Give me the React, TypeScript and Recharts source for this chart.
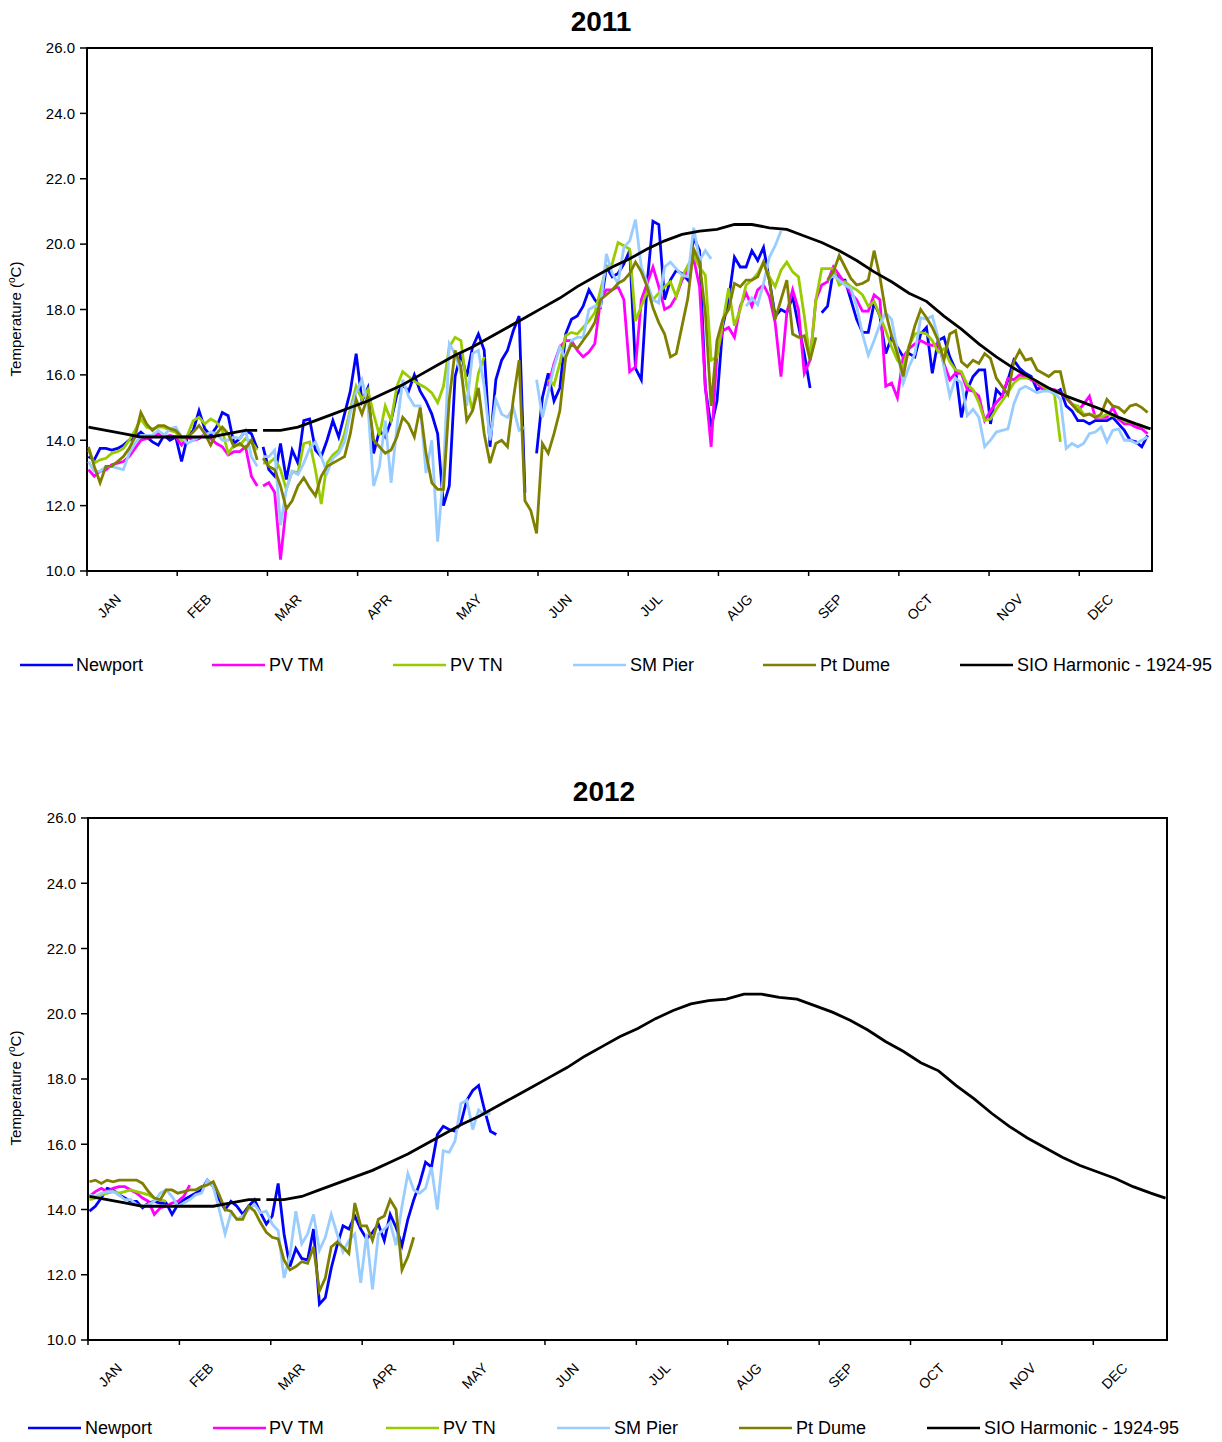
import { LineChart, Line, XAxis, YAxis, ReferenceArea } from "recharts";

const months = ["JAN", "FEB", "MAR", "APR", "MAY", "JUN", "JUL", "AUG", "SEP", "OCT", "NOV", "DEC"];
const monthTicks = [0, 31, 62, 93, 124, 155, 186, 217, 248, 279, 310, 341];
const yTicks = [10, 12, 14, 16, 18, 20, 22, 24, 26];

const seriesNames = ["Newport", "PV TM", "PV TN", "SM Pier", "Pt Dume"];
const seriesColors = ["#0000FF", "#FF00FF", "#99CC00", "#99CCFF", "#808000"];
const harmonicName = "SIO Harmonic - 1924-95";

// daily temps read every other day from Jan 1 (null = no data)
const newport2011 = [
  13.5, 13.4, 13.75, 13.75, 13.7, 13.75, 13.85, 14.0, 14.1, 14.25,
  14.1, 13.95, 13.85, 14.15, 14.0, 14.1, 13.35, 14.1, 14.3, 14.9,
  14.35, 14.15, 14.4, 14.85, 14.75, 13.9, 14.05, 14.3, 14.2, 13.75,
  13.8, 13.1, 12.9, 13.9, 12.8, 13.7, 13.3, 14.6, 14.65, 13.7,
  13.5, 14.0, 14.6, 14.1, 14.8, 15.5, 16.65, 15.2, 15.6, 13.6,
  14.3, 14.1, 14.6, 15.4, 15.7, 15.5, 16.0, 15.5, 15.2, 14.8,
  14.2, 12.0, 12.6, 15.95, 16.65, 15.95, 16.85, 17.25, 16.75, 13.8,
  15.85, 16.45, 16.75, 17.35, 17.8, 12.4, null, 13.6, 15.3, 16.05,
  15.2, 15.6, 17.25, 17.7, 17.8, 18.1, 18.6, 18.3, 18.1, 19.3,
  19.0, 19.1, 19.4, 19.8, 16.2, 15.85, 18.8, 20.7, 20.6, 18.3,
  18.9, 19.2, 19.1, 18.9, 20.2, 19.8, 15.6, 14.4, 15.2, 17.5,
  18.3, 19.6, 19.3, 19.3, 19.8, 19.5, 19.9, 18.9, 17.8, 18.0,
  17.9, 18.4, 17.5, 16.65, 15.6, null, 17.9, 18.1, 19.2, 18.9,
  18.9, 18.3, 17.7, 17.3, 17.3, 18.2, 17.8, 16.65, 17.15, 16.85,
  16.55, 16.65, 16.55, 17.25, 17.45, 16.05, 17.05, 17.15, 16.55, 16.15,
  14.7, 15.55, 15.95, 16.15, 16.15, 14.5, 15.55, 15.35, 15.85, 16.45,
  16.2, 16.05, 15.95, 15.55, 15.65, 15.55, 15.45, 15.55, 15.05, 14.9,
  14.6, 14.6, 14.5, 14.6, 14.6, 14.6, 14.7, 14.5, 14.3, 14.0,
  13.95, 13.8, 14.15,
];

const pvtm2011 = [
  13.1, 12.9, 13.05, 13.1, 13.25, 13.3, 13.35, 13.5, 13.75, 14.0,
  14.05, 14.1, 14.2, 14.1, 14.15, 14.1, 13.85, 14.1, 14.0, 14.05,
  14.2, 14.05, 13.9, 13.8, 13.55, 13.65, 13.65, 13.8, 12.9, 12.6,
  12.6, 12.7, 12.4, 10.35, 12.0, null, null, null, null, null,
  null, null, null, null, null, null, null, null, null, null,
  null, null, null, null, null, null, null, null, null, null,
  null, null, null, null, null, null, null, null, null, null,
  null, null, null, null, null, null, null, null, null, 15.65,
  16.35, 16.85, 17.05, 17.05, 16.75, 16.55, 16.7, 16.95, 18.3, 18.6,
  18.6, 18.7, 18.3, 16.1, 16.25, 18.3, 18.8, 19.3, 18.7, 18.0,
  18.1, 18.4, 18.9, 19.2, 19.55, 18.7, 15.65, 13.8, 16.65, 17.35,
  17.45, 17.15, 18.1, 18.5, 18.1, 18.6, 18.75, 18.4, 17.6, 15.95,
  17.9, 18.6, 18.0, 16.05, 16.45, 18.3, 18.75, 18.85, 19.3, 19.05,
  18.8, 18.5, 18.3, 17.95, 17.95, 18.45, 18.3, 15.65, 15.75, 15.3,
  16.55, 16.8, 16.95, 17.05, 16.95, 16.9, 16.95, 16.35, 15.85, 16.05,
  16.05, 15.55, 15.5, 15.35, 14.6, 14.9, 15.15, 15.35, 15.9, 15.85,
  16.0, 15.95, 15.85, 15.75, 15.55, 15.55, 15.55, 15.45, 15.3, 15.1,
  14.9, 15.1, 15.35, 14.7, 14.7, 14.7, 15.0, 14.65, 14.5, 14.5,
  14.4, 14.35, 14.2,
];

const pvtn2011 = [
  13.7, 13.3, 13.4, 13.45, 13.6, 13.65, 13.75, 14.0, 14.3, 14.65,
  14.4, 14.35, 14.4, 14.4, 14.3, 14.25, 14.0, 14.15, 14.6, 14.7,
  14.5, 14.65, 14.55, 14.3, 13.6, 13.85, 13.85, 14.05, 13.95, 13.7,
  13.3, 13.3, 13.45, 13.1, 12.5, 13.05, 13.0, 13.9, 13.95, 13.1,
  12.05, 13.3, 13.55, 13.7, 14.2, 14.95, 15.65, 15.25, 15.55, 14.8,
  14.15, 15.05, 14.6, 15.65, 16.1, 15.95, 15.8, 15.7, 15.6, 15.45,
  15.15, 15.65, 16.85, 17.15, 17.05, 15.65, 14.9, 16.05, 16.55, null,
  null, null, null, null, null, null, null, null, null, 15.85,
  15.7, 16.35, 17.2, 17.3, 17.25, 17.45, 17.65, 17.9, 18.6, 19.3,
  19.4, 20.05, 19.95, 19.85, 17.65, 18.1, 18.55, 18.3, 18.5, 18.7,
  18.85, 18.4, 19.0, 19.35, 19.65, 19.3, 19.05, 16.45, 16.55, 17.6,
  18.65, 17.5, 18.0, 18.75, 18.9, 19.1, 19.45, 19.0, 18.7, 19.2,
  19.45, 19.15, 19.0, 17.8, 16.45, 18.3, 19.25, 19.25, 19.25, 18.75,
  18.85, 18.7, 18.6, 18.45, 18.1, 18.25, 17.8, 17.35, 16.85, 16.45,
  16.25, 16.9, 17.25, 17.3, 17.25, 17.05, 16.7, 16.8, 16.4, 16.15,
  16.1, 15.7, 15.55, 15.15, 14.6, 14.65, 14.95, 15.2, 15.45, 15.75,
  15.9, 15.9, 15.9, 15.8, 15.65, 15.55, 15.4, 13.95, null, 15.1,
  15.05, 14.8, 14.8, 14.75, 14.7, 14.8, 14.75, 14.7, 14.6, 14.55,
  14.5, 14.45, 14.35,
];

const smpier2011 = [
  13.35, 13.05, 13.05, 13.2, 13.2, 13.15, 13.1, 13.6, 13.9, 14.15,
  14.15, 14.15, 14.3, 14.15, 14.35, 14.4, 14.1, 13.9, 14.0, 14.1,
  14.15, 14.25, 14.2, 14.0, 14.0, 14.1, 14.05, 14.3, 13.5, 13.2,
  13.5, 13.5, 13.7, 11.4, 12.5, 13.05, 12.95, 13.3, 13.75, 13.95,
  13.5, 13.0, 13.45, 13.6, 13.95, 14.85, 15.45, 15.85, 15.1, 12.6,
  13.2, 14.6, 12.7, 14.4, 15.85, 15.35, 15.05, 15.05, 13.0, 14.0,
  10.9, 13.0, 16.95, 16.65, 16.05, 15.05, 16.65, 16.75, 15.65, 14.0,
  15.25, 14.8, 14.7, 15.0, 14.3, 14.4, null, 15.85, 14.7, 15.45,
  16.25, 16.85, 16.5, 17.05, 17.15, 17.15, 18.0, 18.1, 18.1, 19.7,
  19.1, 18.8, 19.9, 20.1, 20.75, 19.3, 18.8, 18.3, 18.2, 19.3,
  19.45, 19.25, 19.05, 19.0, 20.5, 19.5, 19.8, 19.55, null, null,
  null, null, null, 18.1, 18.35, 18.15, 18.8, 19.6, 19.95, 20.4,
  null, null, null, null, null, null, null, 18.9, 19.05, 18.9,
  18.75, 18.65, 18.1, 17.25, 16.6, 17.05, 17.55, 17.9, 17.7, 16.75,
  15.75, 16.25, 16.65, 17.75, 17.7, 17.8, 17.15, 16.25, 15.35, 15.9,
  15.75, 14.75, 14.95, 14.7, 13.8, 14.0, 14.25, 14.3, 14.35, 15.1,
  15.55, 15.65, 15.55, 15.45, 15.5, 15.5, 15.45, 15.25, 13.75, 13.9,
  13.8, 13.9, 14.2, 14.25, 14.4, 13.95, 14.3, 14.35, 14.0, 14.0,
  13.9, 14.0, 14.1,
];

const ptdume2011 = [
  13.8, 13.2, 12.7, 13.2, 13.2, 13.35, 13.5, 13.75, 14.1, 14.85,
  14.5, 14.3, 14.45, 14.45, 14.35, 14.3, 14.1, 14.1, 14.25, 14.45,
  14.2, 13.85, 14.2, 14.4, 14.2, 13.8, 13.9, 13.75, 14.0, 13.4,
  13.45, 13.2, 13.1, 12.6, 11.9, 12.15, 12.6, 12.85, 12.55, 12.3,
  12.9, 13.2, 13.3, 13.4, 13.5, 14.2, 15.25, 14.8, 15.35, 14.0,
  13.8, 13.6, 13.7, 14.1, 14.7, 14.5, 14.1, 15.0, 13.6, 12.7,
  12.5, 12.5, 15.25, 16.75, 16.25, 14.6, 14.9, 15.6, 14.2, 13.3,
  13.9, 14.0, 13.8, 15.25, 16.45, 12.15, 11.85, 11.15, 13.9, 13.6,
  14.2, 14.9, 16.55, 16.95, 16.8, 17.05, 17.3, 17.6, 18.3, 18.45,
  18.6, 18.8, 18.9, 19.1, 19.45, 19.15, 18.7, 18.05, 17.6, 17.25,
  16.55, 16.65, 17.5, 18.35, 19.85, 19.45, 17.9, 15.05, 17.05, 17.7,
  18.0, 18.8, 18.7, 18.9, 18.9, 19.0, 19.45, 18.9, 17.7, 18.3,
  18.9, 17.25, 17.15, 17.2, 16.45, 17.15, null, 18.9, 19.15, 19.65,
  19.3, 18.95, 18.75, 18.8, 18.9, 19.8, 19.0, 17.9, 17.2, 16.65,
  15.95, 16.85, 17.5, 18.0, 17.75, 17.45, 17.05, 16.45, 17.25, 17.35,
  16.4, 16.25, 16.45, 16.35, 16.65, 16.5, 15.9, 15.65, 15.4, 16.4,
  16.75, 16.45, 16.5, 16.15, 16.05, 15.95, 16.1, 16.1, 15.3, 15.1,
  14.9, 14.75, 14.8, 14.7, 14.8, 15.25, 15.05, 15.0, 14.85, 15.05,
  15.1, 15.0, 14.85,
];

const newport2012 = [
  13.95, 14.1, 14.35, 14.65, 14.6, 14.45, 14.35, 14.25, 14.25, 14.05,
  14.2, 14.25, 14.2, 14.2, 13.85, 14.15, 14.3, 14.4, 14.5, 14.6,
  14.9, 14.7, 14.3, 14.0, 14.25, 14.1, 13.85, 14.1, 14.3, 13.9,
  13.55, 13.8, 14.8, 13.25, 12.25, 12.8, 12.5, 12.45, 13.4, 11.1,
  11.3, 12.2, 12.9, 13.5, 13.4, 13.8, 13.4, 13.1, 13.3, 13.55,
  13.05, 13.85, 13.45, 12.9, 13.7, 14.3, 14.8, 15.45, 15.3, 16.3,
  16.55, 16.45, 16.4, 16.65, 17.35, 17.65, 17.8, 17.05, 16.4, 16.3,
];

const pvtm2012 = [
  14.4, 14.55, 14.65, 14.55, 14.65, 14.7, 14.7, 14.6, 14.5, 14.35,
  14.25, 13.85, 14.05, 14.1, 14.2, 14.25, 14.4, 14.75,
];

const pvtn2012 = [
  14.3, 14.35, 14.45, 14.5, 14.55, 14.5, 14.55, 14.6, 14.55, 14.5,
  14.45, 14.35, 14.3, 14.25,
];

const smpier2012 = [
  14.45, 14.4, 14.5, 14.55, 14.55, 14.45, 14.3, 14.3, 14.15, 14.1,
  14.15, 14.25, 14.5, 14.6, 14.4, 14.1, 14.2, 14.3, 14.45, 14.5,
  14.9, 14.7, 14.0, 13.25, 13.9, 13.7, 13.8, 14.0, 14.15, 13.9,
  13.95, 13.55, 13.35, 11.9, 12.6, 13.95, 12.95, 13.25, 13.85, 12.75,
  13.15, 13.85, 13.25, 12.7, 13.05, 13.25, 11.75, 13.25, 11.55, 13.25,
  13.4, 13.6, 12.9, 14.1, 15.1, 14.6, 14.5, 14.65, 15.3, 14.0,
  15.8, 15.75, 16.1, 17.25, 17.35, 16.45, 17.05, 16.9, 16.95,
];

const ptdume2012 = [
  14.85, 14.9, 14.8, 14.9, 14.85, 14.9, 14.9, 14.9, 14.9, 14.8,
  14.55, 14.35, 14.3, 14.6, 14.6, 14.5, 14.55, 14.6, 14.6, 14.7,
  14.75, 14.85, 14.45, 14.0, 13.95, 13.7, 13.7, 14.1, 13.95, 13.6,
  13.3, 13.15, 13.1, 12.45, 12.15, 12.25, 12.4, 12.35, 12.85, 11.5,
  11.9, 12.85, 13.0, 12.85, 12.65, 14.2, 13.5, 13.5, 13.05, 13.7,
  13.8, 14.3, 14.0, 12.15, 12.55, 13.15,
];

// long-term harmonic mean (no Feb 29 value)
const harmonicDays = [
  0, 6, 12, 18, 24, 30, 36, 42, 48, 54, 58, 59, 60, 66, 72, 78, 84, 90, 96, 102,
  108, 114, 120, 126, 132, 138, 144, 150, 156, 162, 168, 174, 180, 186, 192, 198, 204, 210, 216, 222,
  228, 234, 240, 246, 252, 258, 264, 270, 276, 282, 288, 294, 300, 306, 312, 318, 324, 330, 336, 342,
  348, 354, 360, 365,
];
const harmonicTemps = [
  14.4, 14.3, 14.2, 14.1, 14.1, 14.1, 14.1, 14.1, 14.2, 14.3, 14.3, null, 14.3, 14.3, 14.4, 14.6, 14.8, 15.0, 15.2, 15.45,
  15.7, 16.0, 16.3, 16.6, 16.85, 17.15, 17.45, 17.75, 18.05, 18.35, 18.7, 19.0, 19.3, 19.55, 19.85, 20.1, 20.3, 20.4, 20.45, 20.6,
  20.6, 20.5, 20.45, 20.25, 20.05, 19.8, 19.5, 19.15, 18.85, 18.5, 18.25, 17.8, 17.4, 16.95, 16.55, 16.2, 15.9, 15.6, 15.35, 15.15,
  14.95, 14.7, 14.5, 14.35,
];

type Pt = { x: number; v: number | null };

function everyOtherDay(vals: (number | null)[], leapGap: boolean): Pt[] {
  const pts: Pt[] = vals.map((v, k) => ({ x: 2 * k + 0.5, v }));
  if (leapGap) pts.splice(30, 0, { x: 59.5, v: null });
  return pts;
}

const harmonicPts: Pt[] = harmonicDays.map((d, i) => ({ x: d + 0.5, v: harmonicTemps[i] }));

const FONT = "'Liberation Sans', Arial, sans-serif";

function MonthTick(props: any) {
  const { x, y, index } = props;
  const px = x + 35;
  const py = y + 24;
  return (
    <text x={px} y={py} transform={`rotate(-45 ${px} ${py})`} textAnchor="end" fontSize={14} fill="#000" fontFamily={FONT}>
      {months[index]}
    </text>
  );
}

function TempChart({ series, width, height, margin, yAxisW, xAxisH }: any) {
  return (
    <LineChart width={width} height={height} margin={margin}>
      <XAxis
        type="number"
        dataKey="x"
        domain={[0, 366]}
        ticks={monthTicks}
        interval={0}
        height={xAxisH}
        axisLine={false}
        tickSize={5}
        tickMargin={0}
        tickLine={{ stroke: "#000", strokeWidth: 1.5 }}
        tick={<MonthTick />}
        allowDataOverflow
      />
      <YAxis
        type="number"
        domain={[10, 26]}
        ticks={yTicks}
        interval={0}
        width={yAxisW}
        axisLine={false}
        tickSize={7}
        tickMargin={5}
        tickLine={{ stroke: "#000", strokeWidth: 1.5 }}
        tickFormatter={(v: number) => v.toFixed(1)}
        tick={{ fill: "#000", fontSize: 15, fontFamily: FONT }}
        allowDataOverflow
      />
      {series.map((pts: Pt[], i: number) => (
        <Line
          key={seriesNames[i]}
          data={pts}
          dataKey="v"
          name={seriesNames[i]}
          type="linear"
          stroke={seriesColors[i]}
          strokeWidth={2.8}
          dot={false}
          activeDot={false}
          connectNulls={false}
          isAnimationActive={false}
        />
      ))}
      <Line
        data={harmonicPts}
        dataKey="v"
        name={harmonicName}
        type="linear"
        stroke="#000"
        strokeWidth={2.8}
        dot={false}
        activeDot={false}
        connectNulls={false}
        isAnimationActive={false}
      />
      <ReferenceArea x1={0} x2={366} y1={10} y2={26} fill="none" fillOpacity={0} stroke="#000" strokeWidth={2} ifOverflow="visible" />
    </LineChart>
  );
}

function Legend({ y, lineX, textX }: { y: number; lineX: number[]; textX: number[] }) {
  const names = [...seriesNames, harmonicName];
  const colors = [...seriesColors, "#000"];
  return (
    <g>
      {names.map((n, i) => (
        <g key={n}>
          <line x1={lineX[i]} x2={lineX[i] + 53} y1={y} y2={y} stroke={colors[i]} strokeWidth={2.5} />
          <text x={textX[i]} y={y + 6} fontSize={18} fill="#000" fontFamily={FONT}>
            {n}
          </text>
        </g>
      ))}
    </g>
  );
}

function YLabel({ cy }: { cy: number }) {
  return (
    <text x={21} y={cy} transform={`rotate(-90 21 ${cy})`} textAnchor="middle" fontSize={15} fill="#000" fontFamily={FONT}>
      Temperature (<tspan fontSize={10} dy={-6}>o</tspan>
      <tspan dy={6}>C)</tspan>
    </text>
  );
}

export default function App() {
  const s2011 = [newport2011, pvtm2011, pvtn2011, smpier2011, ptdume2011].map((a) => everyOtherDay(a, true));
  const s2012 = [newport2012, pvtm2012, pvtn2012, smpier2012, ptdume2012].map((a) => everyOtherDay(a, false));
  return (
    <div style={{ position: "absolute", left: 0, top: 0, width: 1222, height: 1442, background: "#fff", fontFamily: FONT }}>
      <div style={{ position: "absolute", left: 0, top: 0 }}>
        <TempChart series={s2011} width={1222} height={700} yAxisW={87} xAxisH={129} margin={{ top: 48, right: 70, bottom: 0, left: 0 }} />
      </div>
      <div style={{ position: "absolute", left: 0, top: 720 }}>
        <TempChart series={s2012} width={1222} height={722} yAxisW={88} xAxisH={102} margin={{ top: 98, right: 55, bottom: 0, left: 0 }} />
      </div>
      <svg width={1222} height={1442} style={{ position: "absolute", left: 0, top: 0, pointerEvents: "none" }}>
        <text x={601} y={31} textAnchor="middle" fontSize={28} fontWeight="bold" fill="#000" fontFamily={FONT}>
          2011
        </text>
        <text x={604} y={801} textAnchor="middle" fontSize={28} fontWeight="bold" fill="#000" fontFamily={FONT}>
          2012
        </text>
        <YLabel cy={319} />
        <YLabel cy={1088} />
        <Legend y={665} lineX={[20, 212, 393, 573, 763, 960]} textX={[76, 269, 450, 630, 820, 1017]} />
        <Legend y={1428} lineX={[28, 213, 386, 557, 739, 927]} textX={[85, 269, 443, 614, 796, 984]} />
      </svg>
    </div>
  );
}
